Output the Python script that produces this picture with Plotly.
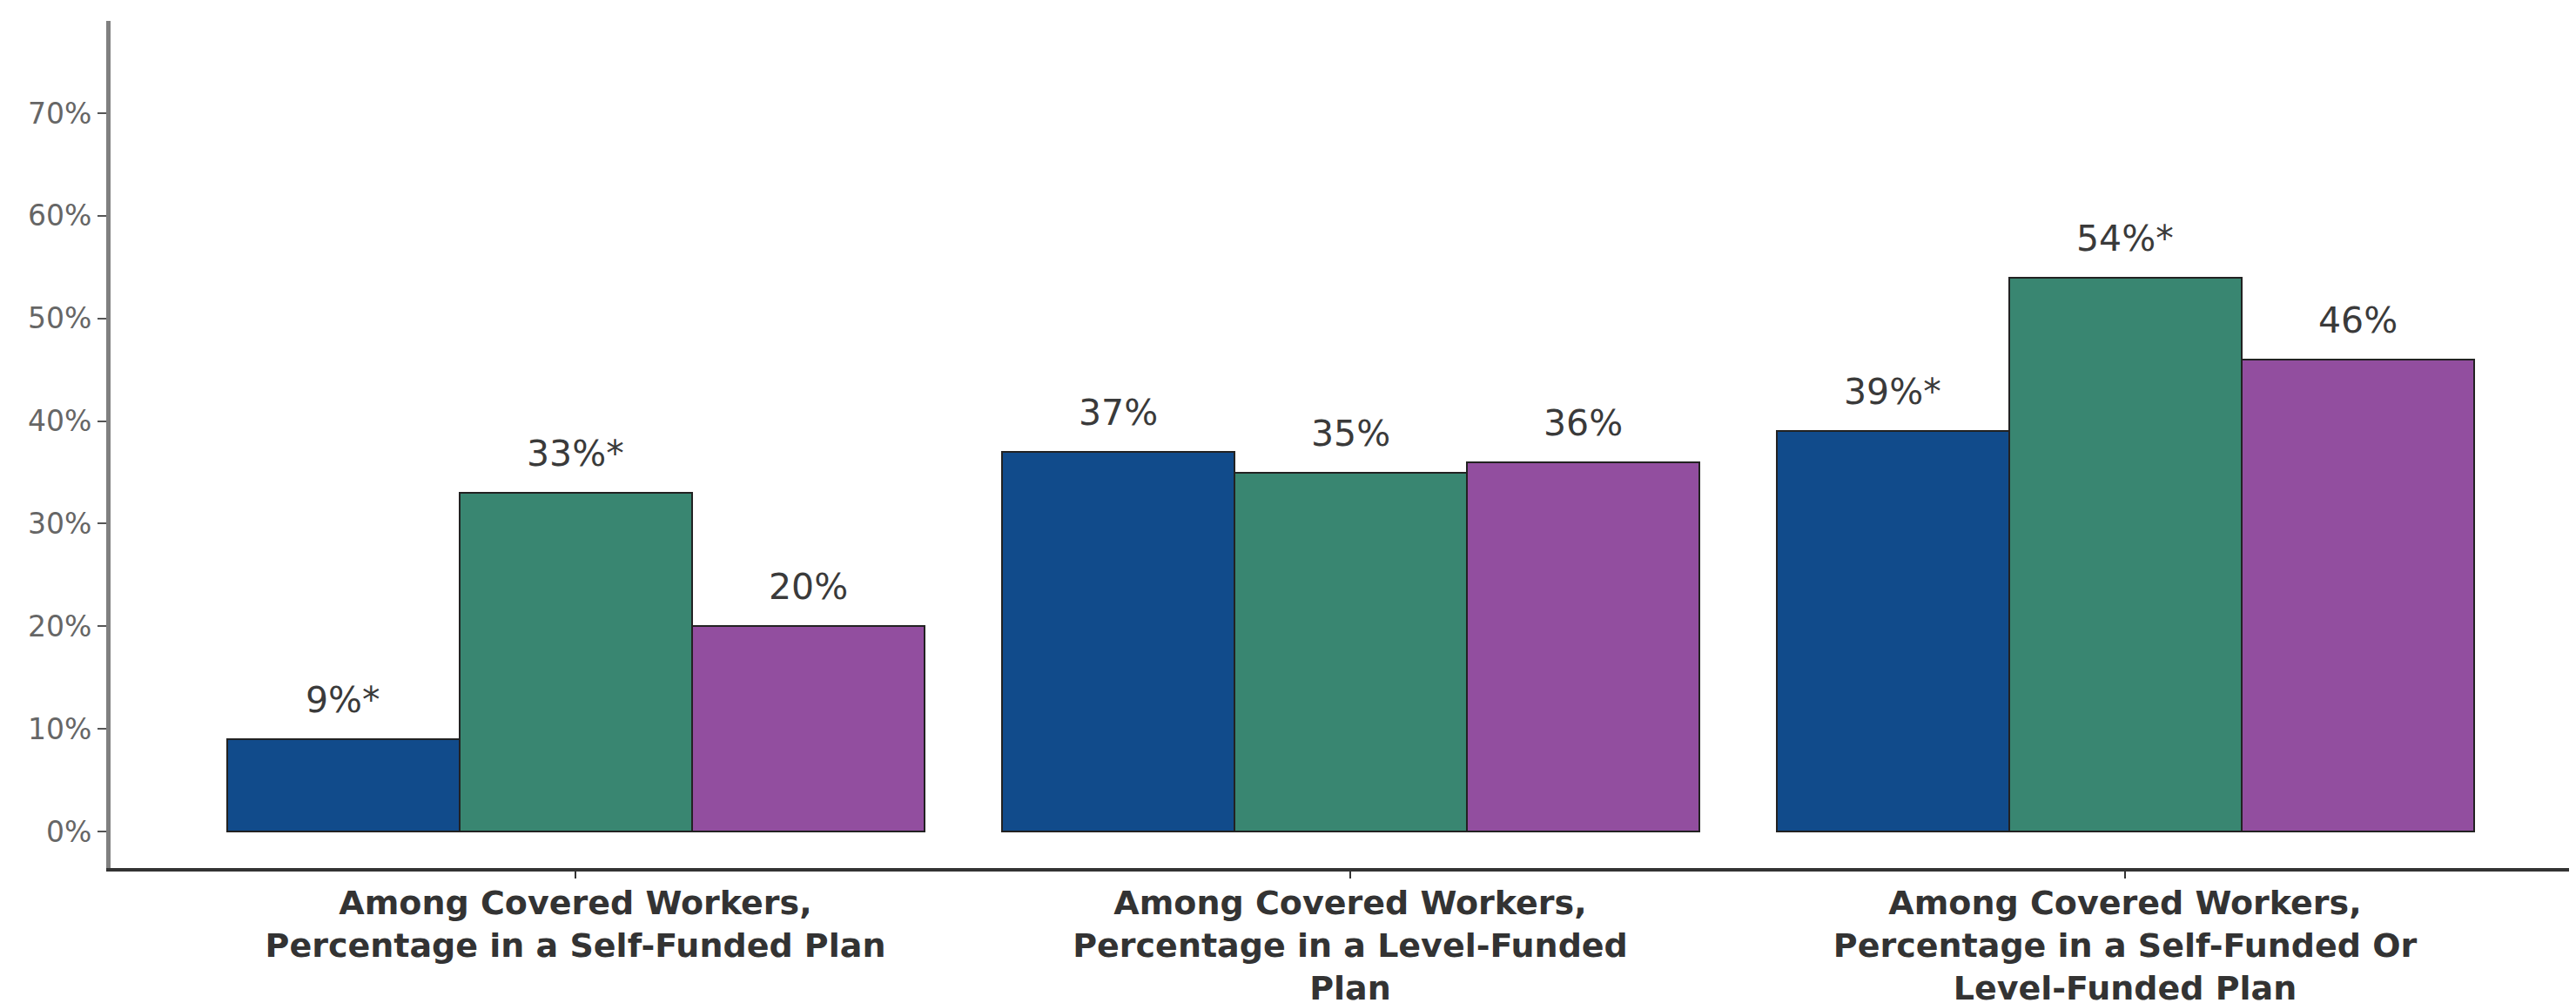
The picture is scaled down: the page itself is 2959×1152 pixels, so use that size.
import plotly.graph_objects as go

categories = [
    "Among Covered Workers,<br>Percentage in a Self-Funded Plan",
    "Among Covered Workers,<br>Percentage in a Level-Funded<br>Plan",
    "Among Covered Workers,<br>Percentage in a Self-Funded Or<br>Level-Funded Plan",
]
series_names = ["Series 1", "Series 2", "Series 3"]
series_values = [
    [9, 37, 39],
    [33, 35, 54],
    [20, 36, 46],
]
series_labels = [
    ["9%*", "37%", "39%*"],
    ["33%*", "35%", "54%*"],
    ["20%", "36%", "46%"],
]
colors = ["#114b8b", "#398671", "#924e9f"]
ytick_vals = [0, 10, 20, 30, 40, 50, 60, 70]
ytick_text = ["0%", "10%", "20%", "30%", "40%", "50%", "60%", "70%"]

bar_w = 0.3
centers = [1, 2, 3]

fig = go.Figure()
annotations = []
for j, (name, vals, labs, col) in enumerate(zip(series_names, series_values, series_labels, colors)):
    off = (j - 1) * bar_w
    xs = [c + off for c in centers]
    fig.add_trace(go.Bar(
        x=xs, y=vals, width=bar_w, name=name,
        marker=dict(color=col, line=dict(color="#222222", width=2)),
        showlegend=False,
    ))
    for x, v, t in zip(xs, vals, labs):
        annotations.append(dict(
            x=x, y=v, text=t, showarrow=False, xref="x", yref="y",
            yanchor="bottom", yshift=19,
            font=dict(family="DejaVu Sans", size=41, color="#3a3a3a"),
        ))

fig.update_layout(
    width=2959, height=1152,
    margin=dict(l=119, r=0, t=16, b=163),
    plot_bgcolor="white", paper_bgcolor="white",
    bargap=0, annotations=annotations,
    xaxis=dict(
        range=[0.4, 3.591], tickvals=centers, ticktext=categories,
        automargin=False,
        showline=True, linecolor="#333333", linewidth=4,
        ticks="outside", ticklen=8, tickwidth=2, tickcolor="#333333",
        ticklabelstandoff=-5,
        showgrid=False, zeroline=False,
        tickfont=dict(family="DejaVu Sans", size=38, color="#333333", weight="bold"),
    ),
    yaxis=dict(
        range=[-3.56, 79.0], tickvals=ytick_vals, ticktext=ytick_text,
        automargin=False,
        showline=True, linecolor="#808080", linewidth=5,
        ticks="outside", ticklen=10, tickwidth=2, tickcolor="#555555",
        showgrid=False, zeroline=False,
        tickfont=dict(family="DejaVu Sans", size=33, color="#666666"),
    ),
)

fig.write_html("out.html")
